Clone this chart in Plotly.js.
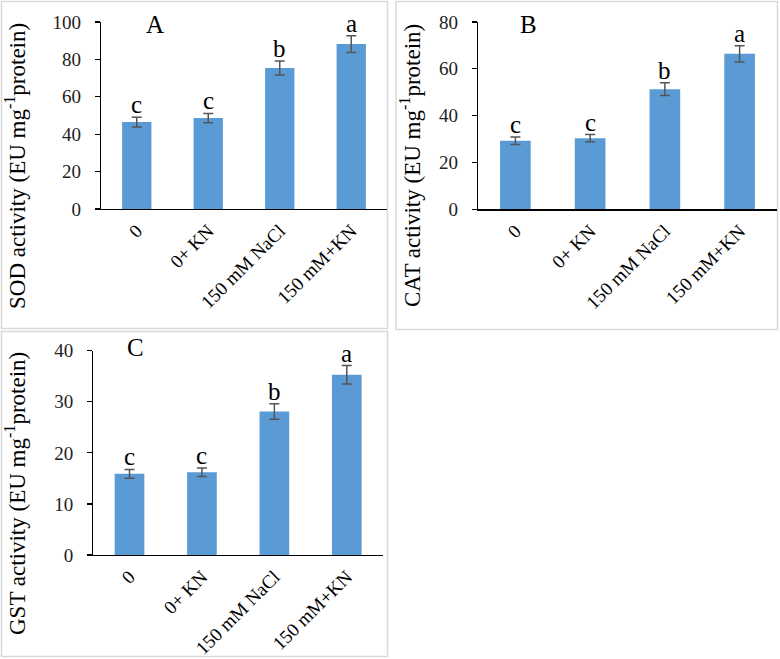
<!DOCTYPE html>
<html>
<head>
<meta charset="utf-8">
<script src="https://cdn.plot.ly/plotly-3.0.1.min.js"></script>
<style>html,body{margin:0;padding:0;background:#fff;}#chart{width:780px;height:659px;}</style>
</head>
<body>
<div id="chart"></div>
<script>
const categories = ['0', '0+ KN', '150 mM NaCl', '150 mM+KN'];

const sodValues = [46.5, 48.6, 75.4, 88.2];
const sodErrors = [2.6, 2.5, 3.8, 4.5];
const sodLetters = ['c', 'c', 'b', 'a'];

const catValues = [29.3, 30.4, 51.3, 66.4];
const catErrors = [1.6, 1.5, 2.7, 3.5];
const catLetters = ['c', 'c', 'b', 'a'];

const gstValues = [15.9, 16.2, 28.1, 35.3];
const gstErrors = [0.85, 0.85, 1.5, 1.8];
const gstLetters = ['c', 'c', 'b', 'a'];

const panelLabels = ['A', 'B', 'C'];
const yTitles = [
  'SOD activity (EU mg<sup>-1</sup>protein)',
  'CAT activity (EU mg<sup>-1</sup>protein)',
  'GST activity (EU mg<sup>-1</sup>protein)'
];

const W = 780, H = 659;
const px = v => v / W;
const py = v => 1 - v / H;
const FONT = 'Liberation Serif, Times New Roman, serif';
const barColor = '#5B9BD5';

function barTrace(vals, errs, xa, ya) {
  return {
    type: 'bar', x: categories, y: vals, xaxis: xa, yaxis: ya,
    marker: {color: barColor},
    error_y: {type: 'data', array: errs, visible: true, color: '#555555', thickness: 1.5, width: 5},
    hoverinfo: 'skip', showlegend: false
  };
}

const data = [
  barTrace(sodValues, sodErrors, 'x', 'y'),
  barTrace(catValues, catErrors, 'x2', 'y2'),
  barTrace(gstValues, gstErrors, 'x3', 'y3')
];

function xAxis(d0, d1, anchor) {
  return {
    domain: [px(d0), px(d1)], anchor: anchor,
    showline: true, linecolor: '#000', linewidth: 1.2,
    ticks: '', tickangle: -45, showgrid: false, zeroline: false,
    ticklabelstandoff: 2,
    tickfont: {family: FONT, size: 19, color: '#000'}, fixedrange: true
  };
}
function yAxis(top, bottom, anchor, maxV, dtick) {
  return {
    domain: [py(bottom), py(top)], anchor: anchor,
    range: [0, maxV], dtick: dtick, tick0: 0,
    showline: true, linecolor: '#000', linewidth: 1.2,
    ticks: 'outside', ticklen: 5, tickcolor: '#000', tickwidth: 1.2,
    ticklabelstandoff: 10,
    showgrid: false, zeroline: false,
    tickfont: {family: FONT, size: 19, color: '#222'},
    fixedrange: true
  };
}

const annotations = [];
function addLetters(letters, vals, errs, xa, ya) {
  letters.forEach((l, i) => {
    annotations.push({
      x: categories[i], y: vals[i] + errs[i], xref: xa, yref: ya,
      text: l, showarrow: false, yanchor: 'bottom', yshift: -3,
      font: {family: FONT, size: 25, color: '#000'}
    });
  });
}
addLetters(sodLetters, sodValues, sodErrors, 'x', 'y');
addLetters(catLetters, catValues, catErrors, 'x2', 'y2');
addLetters(gstLetters, gstValues, gstErrors, 'x3', 'y3');

const panelPos = [[155, 25], [528, 25], [135, 347]];
panelLabels.forEach((t, i) => {
  annotations.push({
    x: px(panelPos[i][0]), y: py(panelPos[i][1]), xref: 'paper', yref: 'paper',
    text: t, showarrow: false, xanchor: 'center', yanchor: 'middle',
    font: {family: FONT, size: 25, color: '#000'}
  });
});

const titlePos = [[16, 166], [411, 166], [16, 494]];
yTitles.forEach((t, i) => {
  annotations.push({
    x: px(titlePos[i][0]), y: py(titlePos[i][1]), xref: 'paper', yref: 'paper',
    text: t, showarrow: false, textangle: -90, xanchor: 'center', yanchor: 'middle',
    font: {family: FONT, size: 23, color: '#000'}
  });
});

const boxes = [[1.5, 1.5, 387.5, 328.5], [396, 1.5, 777.5, 329.5], [1.5, 331.5, 387.5, 656.5]];
const shapes = boxes.map(b => ({
  type: 'rect', xref: 'paper', yref: 'paper',
  x0: px(b[0]), x1: px(b[2]), y0: py(b[3]), y1: py(b[1]),
  line: {color: '#d9d9d9', width: 1.5}, fillcolor: 'rgba(0,0,0,0)', layer: 'below'
}));

const layout = {
  width: W, height: H,
  margin: {l: 0, r: 0, t: 0, b: 0},
  paper_bgcolor: '#fff', plot_bgcolor: 'rgba(0,0,0,0)',
  bargap: 0.59,
  showlegend: false,
  xaxis: xAxis(101, 387, 'y'),
  yaxis: yAxis(22, 209, 'x', 100, 20),
  xaxis2: xAxis(478, 777, 'y2'),
  yaxis2: yAxis(22, 209.3, 'x2', 80, 20),
  xaxis3: xAxis(93.3, 383, 'y3'),
  yaxis3: yAxis(350.7, 555, 'x3', 40, 10),
  annotations: annotations,
  shapes: shapes
};

Plotly.newPlot('chart', data, layout, {displayModeBar: false, staticPlot: true});
</script>
</body>
</html>
